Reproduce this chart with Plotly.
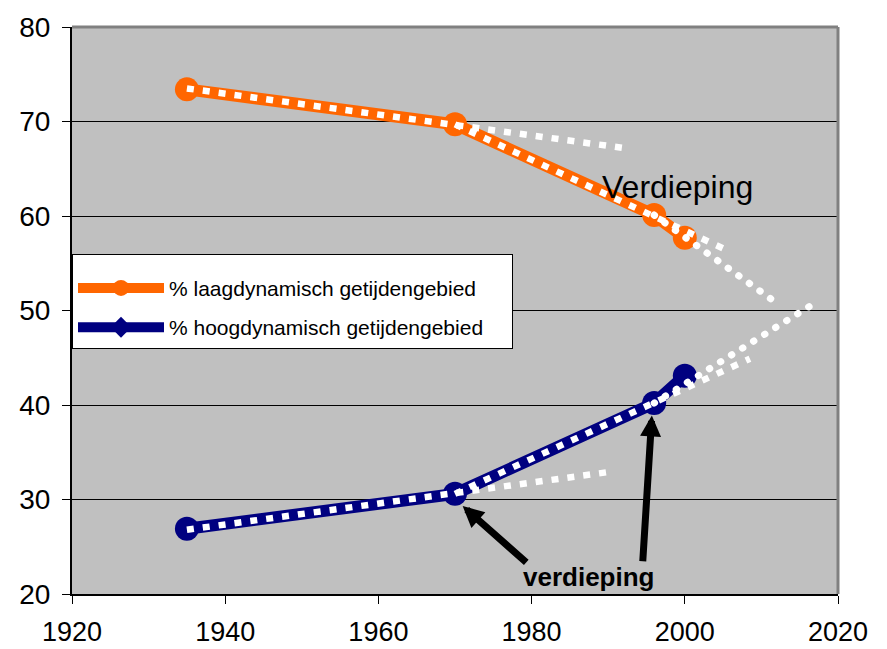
import plotly.graph_objects as go

# ---- data ----
years = [1935, 1970, 1996, 2000]
laag = [73.4, 69.7, 60.1, 57.7]
hoog = [26.9, 30.6, 40.2, 43.1]

trend_laag_1_x = [1935, 1992]
trend_laag_1_y = [73.5, 67.2]
trend_laag_2_x = [1970, 2006]
trend_laag_2_y = [69.7, 56.2]
trend_laag_3_x = [1996, 2011.3]
trend_laag_3_y = [60.1, 51.2]

trend_hoog_1_x = [1935, 1990]
trend_hoog_1_y = [26.8, 32.9]
trend_hoog_2_x = [1970, 2008.5]
trend_hoog_2_y = [30.6, 44.9]
trend_hoog_3_x = [1996, 2017.2]
trend_hoog_3_y = [40.2, 50.9]

name_laag = "% laagdynamisch getijdengebied"
name_hoog = "% hoogdynamisch getijdengebied"

x_ticks = [1920, 1940, 1960, 1980, 2000, 2020]
y_ticks = [20, 30, 40, 50, 60, 70, 80]

ORANGE = "#FF6600"
NAVY = "#000080"
FONT = "Arial, Liberation Sans, sans-serif"
PAD = "\u00a0" * 4

fig = go.Figure()

# main series
fig.add_trace(go.Scatter(x=years, y=laag, mode="lines+markers", showlegend=False,
                         line=dict(color=ORANGE, width=12),
                         marker=dict(color=ORANGE, size=24, symbol="circle")))
fig.add_trace(go.Scatter(x=years, y=hoog, mode="lines+markers", showlegend=False,
                         line=dict(color=NAVY, width=12),
                         marker=dict(color=NAVY, size=24, symbol="circle")))

# trend lines (square dots)
for tx, ty in [(trend_laag_1_x, trend_laag_1_y), (trend_laag_2_x, trend_laag_2_y),
               (trend_hoog_1_x, trend_hoog_1_y), (trend_hoog_2_x, trend_hoog_2_y)]:
    fig.add_trace(go.Scatter(x=tx, y=ty, mode="lines", showlegend=False, hoverinfo="skip",
                             line=dict(color="white", width=6.5, dash="7px,9px")))
# trend lines (round dots)
for tx, ty in [(trend_laag_3_x, trend_laag_3_y), (trend_hoog_3_x, trend_hoog_3_y)]:
    fig.add_trace(go.Scatter(x=tx, y=ty, mode="lines", showlegend=False, hoverinfo="skip",
                             line=dict(color="white", width=7, dash="0.5px,12.5px")))

# legend entries
fig.add_trace(go.Scatter(x=[None], y=[None], mode="lines+markers", name=name_laag + PAD,
                         legendgroup="a",
                         line=dict(color=ORANGE, width=12),
                         marker=dict(color=ORANGE, size=16, symbol="circle")))
fig.add_trace(go.Scatter(x=[None], y=[None], mode="lines+markers", name=name_hoog + PAD,
                         legendgroup="b",
                         line=dict(color=NAVY, width=12),
                         marker=dict(color=NAVY, size=16, symbol="diamond")))

annotations = [
    dict(x=1999.0, y=63.1, xref="x", yref="y", text="Verdieping", showarrow=False,
         font=dict(family=FONT, size=32, color="black")),
    dict(x=1987.4, y=21.8, xref="x", yref="y", text="<b>verdieping</b>", showarrow=False,
         font=dict(family=FONT, size=26, color="black")),
    dict(x=1971.0, y=29.3, ax=1979.5, ay=23.2, xref="x", yref="y", axref="x", ayref="y",
         text="", showarrow=True, arrowhead=2, arrowwidth=7, arrowsize=0.6, arrowcolor="black"),
    dict(x=1995.7, y=38.9, ax=1994.5, ay=23.3, xref="x", yref="y", axref="x", ayref="y",
         text="", showarrow=True, arrowhead=2, arrowwidth=7, arrowsize=0.6, arrowcolor="black"),
]

shapes = [
    dict(type="line", xref="paper", yref="paper", x0=0, x1=1, y0=1, y1=1,
         line=dict(color="#808080", width=3)),
    dict(type="line", xref="paper", yref="paper", x0=1, x1=1, y0=0, y1=1,
         line=dict(color="#808080", width=3)),
]

fig.update_layout(
    width=879, height=641,
    margin=dict(l=64, r=49, t=19, b=55),
    paper_bgcolor="white",
    plot_bgcolor="#C0C0C0",
    font=dict(family=FONT, color="black"),
    annotations=annotations,
    shapes=shapes,
    legend=dict(x=0, y=0.60, xanchor="left", yanchor="top",
                bgcolor="white", bordercolor="black", borderwidth=1,
                font=dict(family=FONT, size=21, color="black"),
                title=dict(text=" ", font=dict(size=10)),
                itemwidth=86, tracegroupgap=9, traceorder="grouped"),
    xaxis=dict(range=[1920, 2020], tickvals=x_ticks, ticktext=[str(v) for v in x_ticks],
               showgrid=False, zeroline=False, showline=True, linecolor="black", linewidth=2,
               ticks="outside", ticklen=8, tickcolor="black", tickwidth=1,
               ticklabelstandoff=5, automargin=False,
               tickfont=dict(family=FONT, size=27, color="black")),
    yaxis=dict(range=[20, 80], tickvals=y_ticks, ticktext=[str(v) for v in y_ticks],
               showgrid=True, gridcolor="black", gridwidth=1, zeroline=False,
               showline=True, linecolor="black", linewidth=2,
               ticks="outside", ticklen=8, tickcolor="black", tickwidth=1,
               ticklabelstandoff=6, automargin=False,
               tickfont=dict(family=FONT, size=28, color="black")),
)

post = """
var gd = document.getElementById('{plot_id}');
gd.querySelectorAll('path.js-line').forEach(function(p){
  var d = p.style.strokeDasharray || '';
  if (d.indexOf('0.5') >= 0) { p.style.strokeLinecap = 'round'; }
});
"""

fig.write_html("out.html", post_script=post)
